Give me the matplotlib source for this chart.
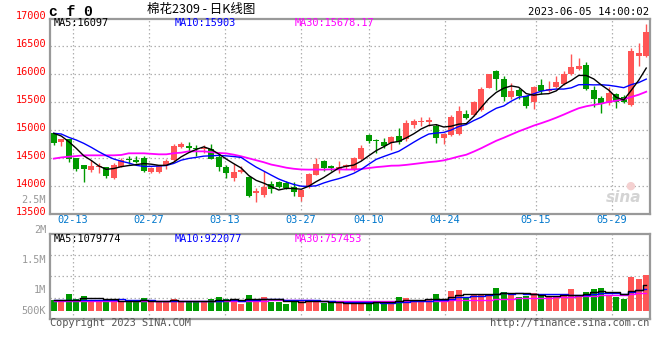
import matplotlib
matplotlib.use("Agg")
import matplotlib.pyplot as plt
import matplotlib.transforms as mtransforms
import numpy as np
import pandas as pd

# ---------------- data ----------------
opens = [14946, 14797, 14845, 14499, 14380, 14291, 14338, 14345, 14148, 14351,
         14482, 14470, 14499, 14261, 14255, 14374, 14470, 14708, 14720, 14690,
         14660, 14666, 14529, 14345, 14148, 14255, 14166, 13874, 13851, 14041,
         14071, 14053, 13994, 13815, 13982, 14208, 14452, 14363, 14315, 14345,
         14291, 14494, 14910, 14821, 14791, 14773, 14892, 14851, 15095, 15148,
         15154, 15083, 14868, 14916, 14928, 15291, 15273, 15362, 15761, 16065,
         15916, 15601, 15720, 15607, 15499, 15809, 15708, 15767, 15821, 16005,
         16095, 16166, 15720, 15583, 15482, 15648, 15589, 15452, 16333, 16333]
highs = [14958, 14845, 14851, 14511, 14380, 14470, 14410, 14345, 14410, 14499,
         14541, 14541, 14541, 14351, 14386, 14493, 14755, 14791, 14791, 14743,
         14732, 14755, 14612, 14380, 14392, 14368, 14178, 13970, 14267, 14095,
         14095, 14095, 14077, 13958, 14232, 14505, 14476, 14386, 14452, 14398,
         14523, 14732, 14934, 14851, 14863, 14898, 15041, 15184, 15196, 15238,
         15238, 15107, 14958, 15273, 15434, 15369, 15523, 15779, 16005, 16083,
         15970, 15839, 15749, 15618, 15791, 15916, 15880, 15970, 16065, 16362,
         16285, 16214, 15791, 15612, 15779, 15660, 15630, 16476, 16565, 16898]
lows = [14743, 14726, 14440, 14279, 14083, 14255, 14243, 14154, 14130, 14339,
        14392, 14422, 14255, 14232, 14243, 14315, 14458, 14690, 14624, 14541,
        14589, 14482, 14279, 14148, 14095, 14232, 13803, 13726, 13815, 13874,
        13970, 13958, 13833, 13744, 13970, 14196, 14267, 14267, 14238, 14315,
        14279, 14470, 14773, 14601, 14678, 14654, 14755, 14815, 15047, 15083,
        15083, 14779, 14749, 14898, 14916, 15208, 15255, 15345, 15749, 15720,
        15529, 15565, 15553, 15404, 15380, 15648, 15690, 15749, 15803, 15987,
        16077, 15720, 15410, 15315, 15452, 15392, 15482, 15434, 16154, 16315]
closes = [14779, 14845, 14482, 14309, 14309, 14363, 14356, 14178, 14380, 14476,
          14464, 14434, 14279, 14321, 14374, 14458, 14720, 14761, 14690, 14666,
          14684, 14493, 14351, 14238, 14255, 14291, 13827, 13916, 13994, 13946,
          13988, 13970, 13904, 13928, 14220, 14398, 14333, 14333, 14345, 14380,
          14505, 14684, 14815, 14803, 14726, 14875, 14785, 15136, 15166, 15160,
          15184, 14857, 14928, 15238, 15345, 15226, 15499, 15738, 16005, 15916,
          15601, 15702, 15618, 15440, 15773, 15702, 15738, 15868, 16005, 16136,
          16154, 15732, 15559, 15470, 15672, 15511, 15500, 16416, 16374, 16755]
volumes = [463000, 391000, 716000, 492000, 631000, 463000, 463000, 391000, 492000, 391000,
           391000, 391000, 547000, 391000, 391000, 391000, 505000, 391000, 391000, 391000,
           391000, 505000, 589000, 505000, 450000, 295000, 673000, 505000, 577000, 391000,
           391000, 295000, 391000, 463000, 463000, 391000, 349000, 324000, 324000, 324000,
           324000, 324000, 421000, 421000, 324000, 324000, 602000, 560000, 421000, 463000,
           463000, 716000, 505000, 854000, 884000, 577000, 673000, 673000, 716000, 981000,
           812000, 673000, 602000, 631000, 770000, 631000, 577000, 577000, 716000, 926000,
           631000, 812000, 926000, 981000, 631000, 602000, 505000, 1431000, 1347000, 1515000]

# moving-average values before enough history is visible
ma5_head = [14946, 14898, 14797, 14678]
ma10_head = [14946, 14934, 14874, 14827, 14767, 14696, 14618, 14547, 14487]
ma30_head = [14494, 14515, 14529, 14540, 14553, 14553, 14553, 14553, 14553, 14560,
             14589, 14589, 14589, 14580, 14571, 14571, 14590, 14601, 14624, 14624,
             14624, 14610, 14595, 14588, 14565, 14535, 14500, 14465, 14430]
vol_ma5_head = [470000, 470000, 470000, 480000]
vol_ma10_head = [455000, 455000, 455000, 455000, 455000, 455000, 455000, 455000, 455000]
vol_ma30_head = [425000, 425000, 425000, 425000, 425000, 425000, 425000, 425000, 425000, 425000,
                 425000, 425000, 425000, 425000, 425000, 425000, 425000, 425000, 425000, 425000,
                 425000, 425000, 425000, 425000, 425000, 425000, 425000, 425000, 425000]

tick_labels = ['02-13', '02-27', '03-13', '03-27', '04-10', '04-24', '05-15', '05-29']
tick_index = [3, 13, 23, 33, 42, 52, 64, 74]
price_ticks = [13500, 14000, 14500, 15000, 15500, 16000, 16500, 17000]
vol_tick_labels = ['2M', '1.5M', '1M', '500K']

ma_texts = ['MA5:16097', 'MA10:15903', 'MA30:15678.17']
vol_ma_texts = ['MA5:1079774', 'MA10:922077', 'MA30:757453']

# ---------------- derived ----------------
df = pd.DataFrame({'o': opens, 'h': highs, 'l': lows, 'c': closes, 'v': volumes})
n = len(df)
x = np.arange(n)


def with_head(series, head, w):
    r = series.rolling(w).mean().to_numpy()
    r[:len(head)] = head
    return r


ma5 = with_head(df['c'], ma5_head, 5)
ma10 = with_head(df['c'], ma10_head, 10)
ma30 = with_head(df['c'], ma30_head, 30)
vma5 = with_head(df['v'], vol_ma5_head, 5)
vma10 = with_head(df['v'], vol_ma10_head, 10)
vma30 = with_head(df['v'], vol_ma30_head, 30)

RED = '#ff5555'
GREEN = '#009900'
FRAME = '#999999'
GRID = '#b0b0b0'
MONO = 'DejaVu Sans Mono'

W, H = 660, 360
fig = plt.figure(figsize=(6.6, 3.6), dpi=100)
fig.patch.set_facecolor('white')


def fx(px):
    return px / W


def fy(py):
    return 1 - py / H


# price axes: pixel box x 50..650, y 19..214.3
p_top, p_bot = 19.0, 214.3
ax = fig.add_axes([fx(50), fy(p_bot), fx(600), (p_bot - p_top) / H])
px_per_500 = 28.0
ylim_top = 13500 + (p_bot - p_top) * 500 / px_per_500
ax.set_ylim(13500, ylim_top)
ax.set_xlim(-0.5, n - 0.5)

# volume axes: pixel box y 234..318.7, bar baseline at 311
v_top, v_bot, v_base = 234.0, 318.7, 311.0
px_per_unit = 23.76e-6
vax = fig.add_axes([fx(50), fy(v_bot), fx(600), (v_bot - v_top) / H])
vax.set_ylim(-(v_bot - v_base) / px_per_unit, (v_base - v_top) / px_per_unit)
vax.set_xlim(-0.5, n - 0.5)

grid_x = [i * n / (n - 1) - 0.5 for i in tick_index]

for a in (ax, vax):
    a.set_xticks([])
    a.set_yticks([])
    for s in a.spines.values():
        s.set_color(FRAME)
        s.set_linewidth(1.6)
    for gx in grid_x:
        a.axvline(gx, color=GRID, lw=0.9, ls=(0, (1.2, 2)), zorder=0)

for v in price_ticks[1:-1]:
    ax.axhline(v, color=GRID, lw=0.9, ls=(0, (1.2, 2)), zorder=0)
vlo, vhi = vax.get_ylim()
for f in (0.25, 0.5, 0.75):
    vax.axhline(vhi - f * (vhi - vlo), color=GRID, lw=0.9, ls=(0, (1.2, 2)), zorder=0)

# candles
up = df['c'] >= df['o']
cols = np.where(up, RED, GREEN)
body_lo = np.minimum(df['o'], df['c'])
body_h = np.maximum(np.abs(df['c'] - df['o']), 18)
ax.vlines(x, df['l'], df['h'], colors=cols, lw=1.0, zorder=2)
ax.bar(x, body_h, bottom=body_lo, width=0.8, color=cols, linewidth=0, zorder=3)

# price MAs
ax.plot(x, ma30, color='#ff00ff', lw=1.3, zorder=4)
ax.plot(x, ma10, color='#0000ff', lw=1.0, zorder=5)
ax.plot(x, ma5, color='#000000', lw=1.0, zorder=6)

# volume bars and MAs
vax.bar(x, df['v'], width=0.8, color=cols, linewidth=0, zorder=2)
vax.plot(x, vma30, color='#ff00ff', lw=1.0, drawstyle='steps-mid', zorder=3)
vax.plot(x, vma10, color='#0000ff', lw=1.0, drawstyle='steps-mid', zorder=4)
vax.plot(x, vma5, color='#000000', lw=1.0, drawstyle='steps-mid', zorder=5)

# price axis labels (red, slightly above grid line)
lab_tr = mtransforms.offset_copy(ax.get_yaxis_transform(), fig=fig, x=-4, y=2, units='dots')
for v in price_ticks:
    ax.text(0, v, str(v), transform=lab_tr, ha='right', va='center', color='#ff0000',
            fontsize=7.4, family=MONO, clip_on=False)

# date labels
for gx, lab in zip(grid_x, tick_labels):
    xf = fx(50) + (gx + 0.5) / n * fx(600)
    fig.text(xf, fy(219.5), lab, ha='center', va='center', color='#0077cc', fontsize=7.4, family=MONO)

# volume axis labels (gray)
for lab, py in zip(['2.5M'] + vol_tick_labels, [200, 230.5, 260, 290, 310.5]):
    fig.text(fx(46), fy(py), lab, ha='right', va='center', color='#999999', fontsize=7.4, family=MONO)

# MA texts
for t, c, px in zip(ma_texts, ['#000000', '#0000ff', '#ff00ff'], [54, 174.5, 295]):
    fig.text(fx(px), fy(23.5), t, ha='left', va='center', color=c, fontsize=7.4, family=MONO)
for t, c, px in zip(vol_ma_texts, ['#000000', '#0000ff', '#ff00ff'], [54, 174.5, 295]):
    fig.text(fx(px), fy(238.5), t, ha='left', va='center', color=c, fontsize=7.4, family=MONO)

# header
fig.text(fx(49), fy(11.5), 'c f 0', ha='left', va='center', color='black', fontsize=10.5,
         family='Liberation Mono', fontweight='bold')
fig.text(fx(201), fy(9.5), '棉花2309 - 日K线图', ha='center', va='center', color='black', fontsize=9,
         family=['Noto Sans CJK SC', 'DejaVu Sans'])
fig.text(fx(649), fy(12), '2023-06-05 14:00:02', ha='right', va='center', color='black',
         fontsize=7.6, family=MONO)

# footer
fig.text(fx(50), fy(323), 'Copyright 2023 SINA.COM', ha='left', va='center', color='#555555',
         fontsize=7.4, family=MONO)
fig.text(fx(649), fy(323), 'http://finance.sina.com.cn', ha='right', va='center', color='#555555',
         fontsize=7.4, family=MONO)

# watermark
fig.text(fx(624), fy(197), 'sina', ha='center', va='center', color='#d4d4d4', fontsize=11,
         fontweight='bold', style='italic', family='DejaVu Sans')
fig.text(fx(630), fy(186), '\u25cf', ha='center', va='center', color='#f4d0d0', fontsize=8,
         family='DejaVu Sans')

fig.savefig('out.png', dpi=100, facecolor='white')
